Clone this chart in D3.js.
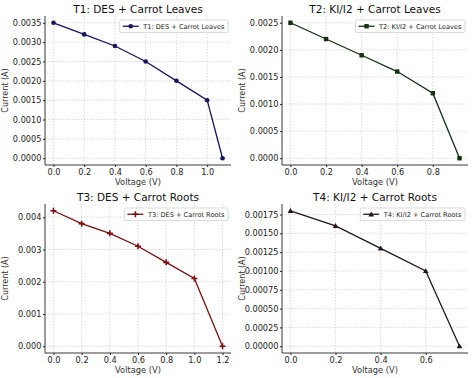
<!DOCTYPE html>
<html>
<head>
<meta charset="utf-8">
<script src="https://cdn.jsdelivr.net/npm/d3@7"></script>
<style>
  body { margin: 0; background: #fff; }
  svg { display: block; font-family: "DejaVu Sans", sans-serif; }
</style>
</head>
<body>
<div id="chart"></div>
<script>
// four I-V curves, one per panel

const titles = ["T1: DES + Carrot Leaves", "T2: KI/I2 + Carrot Leaves",
                "T3: DES + Carrot Roots", "T4: KI/I2 + Carrot Roots"];

const voltT1 = [0, 0.2, 0.4, 0.6, 0.8, 1.0, 1.1];
const currT1 = [0.0035, 0.0032, 0.0029, 0.0025, 0.0020, 0.0015, 0];

const voltT2 = [0, 0.2, 0.4, 0.6, 0.8, 0.95];
const currT2 = [0.0025, 0.0022, 0.0019, 0.0016, 0.0012, 0];

const voltT3 = [0, 0.2, 0.4, 0.6, 0.8, 1.0, 1.2];
const currT3 = [0.0042, 0.0038, 0.0035, 0.0031, 0.0026, 0.0021, 0];

const voltT4 = [0, 0.2, 0.4, 0.6, 0.75];
const currT4 = [0.0018, 0.0016, 0.0013, 0.0010, 0];

const xTicks = [
  [0, 0.2, 0.4, 0.6, 0.8, 1.0],
  [0, 0.2, 0.4, 0.6, 0.8],
  [0, 0.2, 0.4, 0.6, 0.8, 1.0, 1.2],
  [0, 0.2, 0.4, 0.6]
];
const yTicks = [
  [0, 0.0005, 0.0010, 0.0015, 0.0020, 0.0025, 0.0030, 0.0035],
  [0, 0.0005, 0.0010, 0.0015, 0.0020, 0.0025],
  [0, 0.001, 0.002, 0.003, 0.004],
  [0, 0.00025, 0.0005, 0.00075, 0.0010, 0.00125, 0.0015, 0.00175]
];
const yFormats = [".4f", ".4f", ".3f", ".5f"];

const colors = ["#14145e", "#123012", "#7a1010", "#261420"];
const markers = ["circle", "square", "plus", "triangle"];

const W = 474, H = 378;
// panel boxes (left, top, right, bottom)
const boxes = [
  [45, 16, 231, 165],
  [282, 16, 468, 165],
  [45, 204, 231, 353],
  [282, 204, 468, 353]
];

const series = [
  [voltT1, currT1], [voltT2, currT2], [voltT3, currT3], [voltT4, currT4]
];

const svg = d3.select("#chart").append("svg")
  .attr("width", W).attr("height", H);

function drawMarker(g, type, x, y, color) {
  if (type === "circle") {
    g.append("circle").attr("cx", x).attr("cy", y).attr("r", 2.3).attr("fill", color);
  } else if (type === "square") {
    g.append("rect").attr("x", x - 2.2).attr("y", y - 2.2)
      .attr("width", 4.4).attr("height", 4.4).attr("fill", color);
  } else if (type === "plus") {
    g.append("path").attr("d", `M${x-3},${y}H${x+3}M${x},${y-3}V${y+3}`)
      .attr("stroke", color).attr("stroke-width", 1.6);
  } else {
    g.append("path").attr("d", d3.symbol(d3.symbolTriangle, 14)())
      .attr("transform", `translate(${x},${y+0.5})`).attr("fill", color);
  }
}

series.forEach(([xs, ys], i) => {
  const [l, t, r, b] = boxes[i];
  const xMax = d3.max(xs), yMax = d3.max(ys);
  const x = d3.scaleLinear().domain([-0.05 * xMax, 1.05 * xMax]).range([l, r]);
  const y = d3.scaleLinear().domain([-0.05 * yMax, 1.05 * yMax]).range([b, t]);
  const g = svg.append("g");

  // grid
  g.selectAll(".gx").data(xTicks[i]).join("line")
    .attr("x1", d => x(d)).attr("x2", d => x(d)).attr("y1", t).attr("y2", b)
    .attr("stroke", "#c8c8c8").attr("stroke-width", 0.7).attr("stroke-dasharray", "1.5,1.5");
  g.selectAll(".gy").data(yTicks[i]).join("line")
    .attr("x1", l).attr("x2", r).attr("y1", d => y(d)).attr("y2", d => y(d))
    .attr("stroke", "#c8c8c8").attr("stroke-width", 0.7).attr("stroke-dasharray", "1.5,1.5");

  // axes via d3
  const fmt = d3.format(yFormats[i]);
  const ax = g.append("g").attr("transform", `translate(0,${b})`)
    .call(d3.axisBottom(x).tickValues(xTicks[i]).tickFormat(d3.format(".1f"))
      .tickSize(2).tickPadding(2));
  const ay = g.append("g").attr("transform", `translate(${l},0)`)
    .call(d3.axisLeft(y).tickValues(yTicks[i]).tickFormat(fmt)
      .tickSize(2).tickPadding(1.5));
  [ax, ay].forEach(a => {
    a.select(".domain").attr("stroke", "#222").attr("stroke-width", 0.9);
    a.selectAll(".tick line").attr("stroke", "#222");
    a.selectAll("text").attr("font-size", 8.2).attr("fill", "#222")
      .attr("font-family", "DejaVu Sans");
  });
  ax.select(".domain").attr("d", `M${l},0H${r}`);
  ay.select(".domain").attr("d", `M0,${b}V${t}`);

  // labels
  g.append("text").attr("x", (l + r) / 2).attr("y", b + 19.5)
    .attr("text-anchor", "middle").attr("font-size", 8.3).attr("fill", "#333")
    .text("Voltage (V)");
  g.append("text")
    .attr("transform", `translate(${l - 37.5},${(t + b) / 2}) rotate(-90)`)
    .attr("text-anchor", "middle").attr("font-size", 8).attr("fill", "#333")
    .text("Current (A)");
  g.append("text").attr("x", (l + r) / 2).attr("y", t - 3)
    .attr("text-anchor", "middle").attr("font-size", 10.5).attr("fill", "#111")
    .text(titles[i]);

  // line + markers
  const pts = xs.map((v, k) => [v, ys[k]]);
  g.append("path").datum(pts)
    .attr("d", d3.line().x(d => x(d[0])).y(d => y(d[1])))
    .attr("fill", "none").attr("stroke", colors[i]).attr("stroke-width", 1.3);
  pts.forEach(p => drawMarker(g, markers[i], x(p[0]), y(p[1]), colors[i]));

  // legend
  const lg = g.append("g");
  const box = lg.append("rect").attr("fill", "#fff").attr("stroke", "#ccc")
    .attr("stroke-width", 0.7).attr("rx", 1.5);
  const txt = lg.append("text").attr("font-size", 6.6).attr("fill", "#222")
    .attr("x", 0).attr("y", 0).text(titles[i]);
  const tw = txt.node().getComputedTextLength();
  const bw = tw + 27, bh = 12.5;
  const bx = r - 3 - bw, by = t + 4;
  box.attr("x", bx).attr("y", by).attr("width", bw).attr("height", bh);
  txt.attr("x", bx + 23.5).attr("y", by + 8.6);
  lg.append("line").attr("x1", bx + 3).attr("x2", bx + 19)
    .attr("y1", by + bh / 2).attr("y2", by + bh / 2)
    .attr("stroke", colors[i]).attr("stroke-width", 1.3);
  drawMarker(lg, markers[i], bx + 11, by + bh / 2, colors[i]);
});
</script>
</body>
</html>
